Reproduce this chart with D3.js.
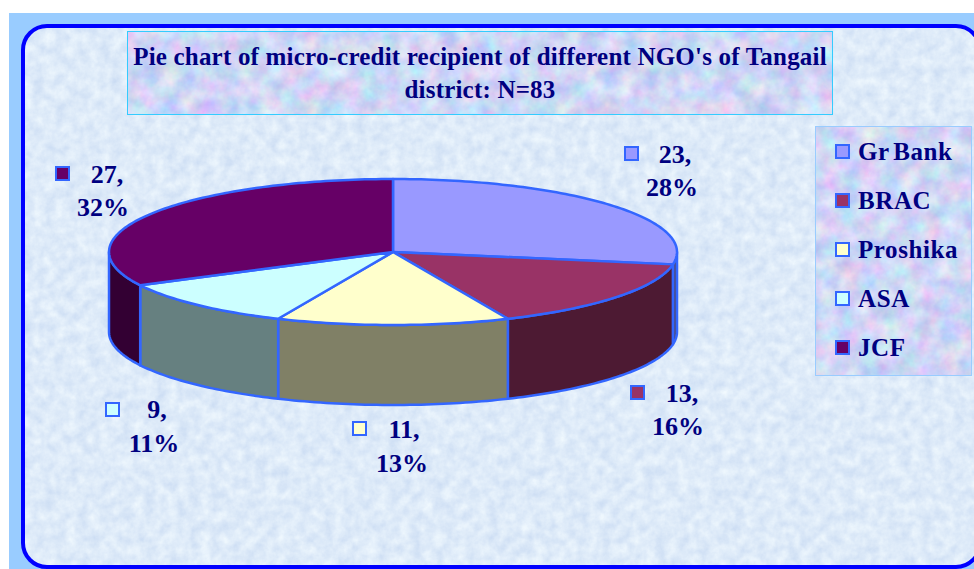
<!DOCTYPE html>
<html>
<head>
<meta charset="utf-8">
<script src="https://cdnjs.cloudflare.com/ajax/libs/d3/7.8.5/d3.min.js"></script>
<style>
  html, body { margin: 0; padding: 0; background: #fff; overflow: hidden; }
  svg { display: block; }
  text { font-family: "Liberation Serif", serif; font-weight: bold; fill: #000080; }
</style>
</head>
<body>
<div id="chart"></div>
<script>
/*------------------------------------------*/
/*            Data                          */
/*------------------------------------------*/

var categories = ["Gr Bank", "BRAC", "Proshika", "ASA", "JCF"];
var counts = [23, 13, 11, 9, 27];
var percents = ["28%", "16%", "13%", "11%", "32%"];
var titleLines = ["Pie chart of micro-credit recipient of different NGO's of Tangail", "district: N=83"];

var topColours = ["#9999ff", "#993366", "#ffffcc", "#ccffff", "#660066"];
var wallColours = ["#4d4d80", "#4d1a33", "#808066", "#668080", "#330033"];

/*------------------------------------------*/
/*            Constants                     */
/*------------------------------------------*/

var width = 974, height = 569;
var lineColour = "#3366ff", wallDepth = 80;

// key box left/top, first line centre and baseline, second line centre and baseline
var labelSpots = [
  {kx: 624, ky: 146, x1: 675, y1: 163, x2: 672, y2: 196},
  {kx: 630, ky: 385, x1: 682, y1: 402, x2: 678, y2: 435},
  {kx: 352, ky: 421, x1: 404, y1: 438, x2: 402, y2: 472},
  {kx: 105, ky: 402, x1: 157, y1: 418, x2: 154, y2: 452},
  {kx: 55, ky: 166, x1: 107, y1: 183, x2: 103, y2: 216}
];
var legendRows = [144, 193, 242, 291, 340];

var svg = d3.select("#chart").append("svg")
    .attr("width", width)
    .attr("height", height);

/*------------------------------------------*/
/*            Paper textures                */
/*------------------------------------------*/

var defs = svg.append("defs");

function addTexture(id, freq, seed, matrix) {
  var f = defs.append("filter")
      .attr("id", id)
      .attr("x", 0).attr("y", 0).attr("width", 1).attr("height", 1)
      .attr("color-interpolation-filters", "sRGB");
  f.append("feTurbulence")
      .attr("type", "fractalNoise")
      .attr("baseFrequency", freq)
      .attr("numOctaves", 4)
      .attr("seed", seed);
  f.append("feColorMatrix")
      .attr("type", "matrix")
      .attr("values", matrix);
  // keep the shape of the rect, so the round corners survive
  f.append("feComposite")
      .attr("in2", "SourceGraphic")
      .attr("operator", "in");
}

// grey-blue paper: one noise channel drives all three colours
addTexture("paper", 0.09, 4,
  "0.17 0 0 0 0.785  0.13 0 0 0 0.855  0.05 0 0 0 0.95  0 0 0 0 1");
// mottled pink / cyan paper behind the title and the legend
addTexture("mottle", 0.05, 9,
  "0.38 0 0 0 0.62  0 0.32 0 0 0.68  0 0 0.14 0 0.89  0 0 0 0 1");

/*------------------------------------------*/
/*            Background                    */
/*------------------------------------------*/

svg.append("rect")
    .attr("x", 9).attr("y", 13)
    .attr("width", width - 9).attr("height", height - 13)
    .attr("fill", "#99ccff");

svg.append("rect")
    .attr("x", 23).attr("y", 26)
    .attr("width", 957).attr("height", 541)
    .attr("rx", 24).attr("ry", 24)
    .attr("fill", "#dde9f9")
    .attr("style", "filter:url(#paper)");

svg.append("rect")
    .attr("x", 23).attr("y", 26)
    .attr("width", 957).attr("height", 541)
    .attr("rx", 24).attr("ry", 24)
    .attr("fill", "none")
    .attr("stroke", "#0000ff")
    .attr("stroke-width", 4);

/*------------------------------------------*/
/*            Title                         */
/*------------------------------------------*/

svg.append("rect")
    .attr("x", 127.5).attr("y", 31.5)
    .attr("width", 705).attr("height", 83)
    .attr("style", "filter:url(#mottle)");
svg.append("rect")
    .attr("x", 127.5).attr("y", 31.5)
    .attr("width", 705).attr("height", 83)
    .attr("fill", "none")
    .attr("stroke", "#33ccff");

svg.selectAll("text.title")
    .data(titleLines)
    .enter().append("text")
    .attr("class", "title")
    .attr("x", 480)
    .attr("y", function(d, i) { return 65 + i * 33; })
    .attr("text-anchor", "middle")
    .attr("font-size", "25px")
    .attr("letter-spacing", "0.2px")
    .text(function(d) { return d; });

/*------------------------------------------*/
/*            Pie                           */
/*------------------------------------------*/

var pie = d3.pie().sort(null)(counts);

var x = d3.scaleLinear().domain([-1, 1]).range([109, 677]),
    y = d3.scaleLinear().domain([-1, 1]).range([179, 325]);

var line = d3.line().curve(d3.curveLinear);

// points along the rim between two angles, clockwise from 12 o'clock
function rim(a0, a1, drop) {
  var n = Math.max(2, Math.ceil((a1 - a0) / 0.02));
  return d3.range(n + 1).map(function(i) {
    var a = a0 + (a1 - a0) * i / n;
    return [x(Math.sin(a)), y(-Math.cos(a)) + drop];
  });
}

var walls = svg.append("g");
pie.forEach(function(s, i) {
  var a0 = Math.max(s.startAngle, Math.PI / 2),
      a1 = Math.min(s.endAngle, Math.PI * 1.5);
  if (a1 <= a0) return;
  var pts = rim(a0, a1, 0).concat(rim(a0, a1, wallDepth).reverse());
  walls.append("path")
      .attr("d", line(pts) + "Z")
      .attr("fill", wallColours[i])
      .attr("stroke", lineColour)
      .attr("stroke-width", 2.5)
      .attr("stroke-linejoin", "round");
});

var tops = svg.append("g");
pie.forEach(function(s, i) {
  var pts = [[x(0), y(0)]].concat(rim(s.startAngle, s.endAngle, 0));
  tops.append("path")
      .attr("d", line(pts) + "Z")
      .attr("fill", topColours[i])
      .attr("stroke", lineColour)
      .attr("stroke-width", 2.5)
      .attr("stroke-linejoin", "round");
});

/*------------------------------------------*/
/*            Data labels                   */
/*------------------------------------------*/

var labels = svg.append("g").attr("font-size", "26px");

counts.forEach(function(c, i) {
  var p = labelSpots[i];
  labels.append("rect")
      .attr("x", p.kx + 1).attr("y", p.ky + 1)
      .attr("width", 13).attr("height", 13)
      .attr("fill", topColours[i])
      .attr("stroke", lineColour)
      .attr("stroke-width", 2);
  labels.append("text")
      .attr("x", p.x1).attr("y", p.y1)
      .attr("text-anchor", "middle")
      .text(c + ",");
  labels.append("text")
      .attr("x", p.x2).attr("y", p.y2)
      .attr("text-anchor", "middle")
      .text(percents[i]);
});

/*------------------------------------------*/
/*            Legend                        */
/*------------------------------------------*/

svg.append("rect")
    .attr("x", 815.5).attr("y", 126.5)
    .attr("width", 156).attr("height", 249)
    .attr("style", "filter:url(#mottle)");
svg.append("rect")
    .attr("x", 815.5).attr("y", 126.5)
    .attr("width", 156).attr("height", 249)
    .attr("fill", "none")
    .attr("stroke", "#99ccff");

var legend = svg.selectAll("g.legend")
    .data(categories)
    .enter().append("g")
    .attr("class", "legend")
    .attr("transform", function(d, i) { return "translate(835," + legendRows[i] + ")"; });

legend.append("rect")
    .attr("x", 1).attr("y", 1)
    .attr("width", 13).attr("height", 13)
    .attr("fill", function(d, i) { return topColours[i]; })
    .attr("stroke", lineColour)
    .attr("stroke-width", 2);

legend.append("text")
    .attr("x", 23)
    .attr("y", 16)
    .attr("font-size", "25px")
    .attr("letter-spacing", "0.6px")
    .attr("word-spacing", "-3px")
    .text(function(d) { return d; });
</script>
</body>
</html>
